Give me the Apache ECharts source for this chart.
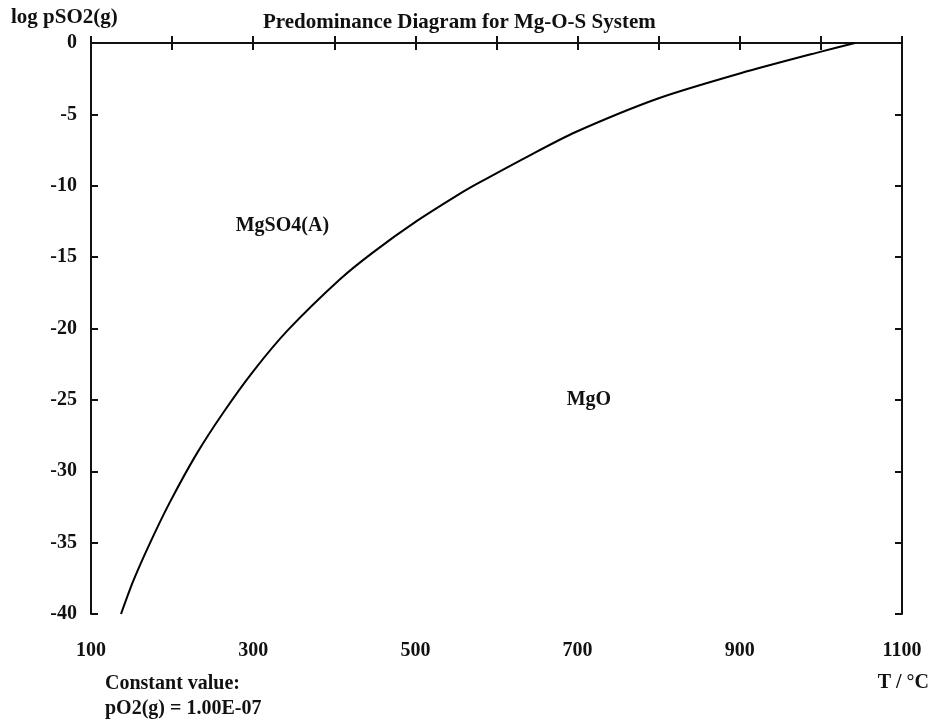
<!DOCTYPE html>
<html>
<head>
<meta charset="utf-8">
<script src="https://cdn.jsdelivr.net/npm/echarts@6/dist/echarts.min.js"></script>
<style>
html,body{margin:0;padding:0;background:#fff;}
#chart{width:936px;height:728px;}
</style>
</head>
<body>
<div id="chart"></div>
<script>
// Boundary MgSO4(A) / MgO: temperature (°C) vs log pSO2(g)
const temperatures = [137, 152, 173, 197, 230, 263, 300, 343, 406, 447, 501, 558, 578, 640, 697, 800, 902, 999, 1042];
const logPSO2 =      [-40, -37.7, -35.0, -32.2, -28.8, -25.9, -23.0, -20.1, -16.6, -14.7, -12.5, -10.45, -9.8, -7.9, -6.25, -3.87, -2.1, -0.62, 0];

const regionNames = ['MgSO4(A)', 'MgO'];
const regionT = [336, 714];
const regionLog = [-12.8, -25.0];

const xTickMin = 100, xTickMax = 1100, xTickStep = 100;
const yTickMin = -40, yTickMax = 0, yTickStep = 5;

const titleText = 'Predominance Diagram for Mg-O-S System';
const yName = 'log pSO2(g)';
const xName = 'T / °C';
const noteLines = ['Constant value:', 'pO2(g) = 1.00E-07'];

const FONT = '"Liberation Serif", "Times New Roman", serif';
const INK = '#111';

const chart = echarts.init(document.getElementById('chart'));

const baseAxisLine = { show: true, lineStyle: { color: INK, width: 2 } };
const baseTick = { show: true, inside: true, length: 7, lineStyle: { color: INK, width: 2 } };

const staticGraphics = [
  { type: 'text', left: 11, top: 7,
    style: { text: yName, fontFamily: FONT, fontWeight: 'bold', fontSize: 21, fill: INK } },
  { type: 'text', right: 7, top: 673,
    style: { text: xName, fontFamily: FONT, fontWeight: 'bold', fontSize: 20, fill: INK } },
  { type: 'text', left: 105, top: 674,
    style: { text: noteLines[0], fontFamily: FONT, fontWeight: 'bold', fontSize: 20, fill: INK } },
  { type: 'text', left: 105, top: 699,
    style: { text: noteLines[1], fontFamily: FONT, fontWeight: 'bold', fontSize: 20, fill: INK } }
];

chart.setOption({
  animation: false,
  backgroundColor: '#fff',
  title: {
    text: titleText,
    left: 258, top: 7,
    textStyle: { fontFamily: FONT, fontWeight: 'bold', fontSize: 21, color: INK }
  },
  grid: { left: 91, right: 34, top: 43, bottom: 114, containLabel: false },
  xAxis: [
    {
      type: 'value', min: xTickMin, max: xTickMax, interval: xTickStep, position: 'bottom',
      axisLine: baseAxisLine, axisTick: baseTick, splitLine: { show: false },
      axisLabel: {
        margin: 27, fontFamily: FONT, fontWeight: 'bold', fontSize: 20, color: INK,
        formatter: v => ((v - xTickMin) % (2 * xTickStep) === 0 ? String(v) : '')
      }
    },
    {
      type: 'value', min: xTickMin, max: xTickMax, interval: xTickStep, position: 'top',
      axisLine: baseAxisLine, axisTick: baseTick, splitLine: { show: false },
      axisLabel: { show: false }
    }
  ],
  yAxis: [
    {
      type: 'value', min: yTickMin, max: yTickMax, interval: yTickStep, position: 'left',
      axisLine: baseAxisLine, axisTick: baseTick, splitLine: { show: false },
      axisLabel: { margin: 14, fontFamily: FONT, fontWeight: 'bold', fontSize: 20, color: INK }
    },
    {
      type: 'value', min: yTickMin, max: yTickMax, interval: yTickStep, position: 'right',
      axisLine: baseAxisLine, axisTick: baseTick, splitLine: { show: false },
      axisLabel: { show: false }
    }
  ],
  series: [
    {
      type: 'line',
      data: temperatures.map((t, i) => [t, logPSO2[i]]),
      smooth: 0.25,
      showSymbol: false,
      lineStyle: { color: '#000', width: 2 },
      silent: true
    }
  ],
  graphic: staticGraphics
});

// Region labels placed through the chart's own scales
const regionGraphics = regionNames.map((n, i) => {
  const p = chart.convertToPixel({ gridIndex: 0 }, [regionT[i], regionLog[i]]);
  return {
    type: 'text', x: p[0], y: p[1],
    style: { text: n, fontFamily: FONT, fontWeight: 'bold', fontSize: 20, fill: INK,
             align: 'center', verticalAlign: 'middle' }
  };
});
chart.setOption({ graphic: staticGraphics.concat(regionGraphics) }, { replaceMerge: ['graphic'] });
</script>
</body>
</html>
